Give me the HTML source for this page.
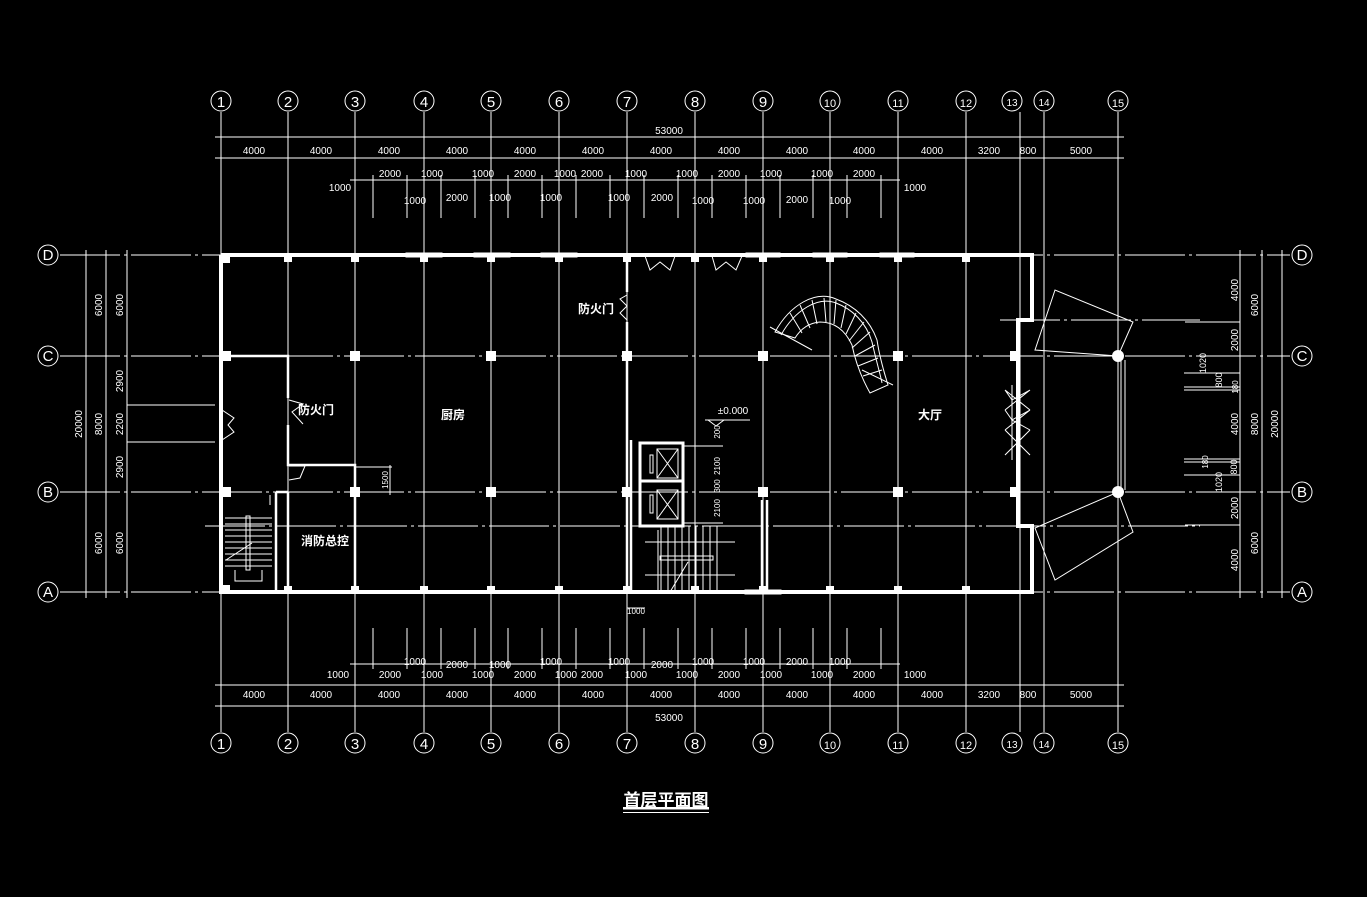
<!DOCTYPE html>
<html><head><meta charset="utf-8"><style>
html,body{margin:0;padding:0;background:#000;}
svg{display:block}
text{fill:#fff;font-family:"Liberation Sans","Noto Sans CJK SC",sans-serif;}
.d{font-size:10px;text-anchor:middle}
.c{font-size:15px;text-anchor:middle;font-family:"Liberation Serif",serif}
.g{stroke:#fff;stroke-width:1;stroke-dasharray:60,4,3,4;fill:none}
.l{stroke:#fff;stroke-width:1;fill:none}
.w{stroke:#fff;stroke-width:4;fill:none}
.w2{stroke:#fff;stroke-width:2.5;fill:none}
.cn{font-size:12px;text-anchor:middle;font-weight:bold}
</style></head><body>
<svg width="1367" height="897" viewBox="0 0 1367 897" xmlns="http://www.w3.org/2000/svg">
<rect width="1367" height="897" fill="#000"/>
<g class="l">
<line x1="221" y1="112" x2="221" y2="732"/><line x1="288" y1="112" x2="288" y2="732"/>
<line x1="355" y1="112" x2="355" y2="732"/><line x1="424" y1="112" x2="424" y2="732"/>
<line x1="491" y1="112" x2="491" y2="732"/><line x1="559" y1="112" x2="559" y2="732"/>
<line x1="627" y1="112" x2="627" y2="732"/><line x1="695" y1="112" x2="695" y2="732"/>
<line x1="763" y1="112" x2="763" y2="732"/><line x1="830" y1="112" x2="830" y2="732"/>
<line x1="898" y1="112" x2="898" y2="732"/><line x1="966" y1="112" x2="966" y2="732"/>
<line x1="1020" y1="112" x2="1020" y2="732"/><line x1="1044" y1="112" x2="1044" y2="732"/>
<line x1="1118" y1="112" x2="1118" y2="732"/>
</g>
<g class="g">
<line x1="60" y1="255" x2="1290" y2="255"/><line x1="60" y1="356" x2="1290" y2="356"/>
<line x1="60" y1="492" x2="1290" y2="492"/><line x1="60" y1="592" x2="1290" y2="592"/>
<line x1="205" y1="526" x2="1200" y2="526"/><line x1="1000" y1="320" x2="1200" y2="320"/>
</g>
<g class="l">
<circle cx="221" cy="101" r="10"/><circle cx="288" cy="101" r="10"/><circle cx="355" cy="101" r="10"/>
<circle cx="424" cy="101" r="10"/><circle cx="491" cy="101" r="10"/><circle cx="559" cy="101" r="10"/>
<circle cx="627" cy="101" r="10"/><circle cx="695" cy="101" r="10"/><circle cx="763" cy="101" r="10"/>
<circle cx="830" cy="101" r="10"/><circle cx="898" cy="101" r="10"/><circle cx="966" cy="101" r="10"/>
<circle cx="1012" cy="101" r="10"/><circle cx="1044" cy="101" r="10"/><circle cx="1118" cy="101" r="10"/>
<circle cx="221" cy="743" r="10"/><circle cx="288" cy="743" r="10"/><circle cx="355" cy="743" r="10"/>
<circle cx="424" cy="743" r="10"/><circle cx="491" cy="743" r="10"/><circle cx="559" cy="743" r="10"/>
<circle cx="627" cy="743" r="10"/><circle cx="695" cy="743" r="10"/><circle cx="763" cy="743" r="10"/>
<circle cx="830" cy="743" r="10"/><circle cx="898" cy="743" r="10"/><circle cx="966" cy="743" r="10"/>
<circle cx="1012" cy="743" r="10"/><circle cx="1044" cy="743" r="10"/><circle cx="1118" cy="743" r="10"/>
<circle cx="48" cy="255" r="10"/><circle cx="48" cy="356" r="10"/><circle cx="48" cy="492" r="10"/><circle cx="48" cy="592" r="10"/>
<circle cx="1302" cy="255" r="10"/><circle cx="1302" cy="356" r="10"/><circle cx="1302" cy="492" r="10"/><circle cx="1302" cy="592" r="10"/>
</g>
<g class="c">
<text x="221" y="107">1</text><text x="288" y="107">2</text><text x="355" y="107">3</text><text x="424" y="107">4</text>
<text x="491" y="107">5</text><text x="559" y="107">6</text><text x="627" y="107">7</text><text x="695" y="107">8</text>
<text x="763" y="107">9</text><text x="830" y="107" style="font-size:11px">10</text><text x="898" y="107" style="font-size:11px">11</text>
<text x="966" y="107" style="font-size:11px">12</text><text x="1012" y="106" style="font-size:10px">13</text><text x="1044" y="106" style="font-size:10px">14</text>
<text x="1118" y="107" style="font-size:11px">15</text>
<text x="221" y="749">1</text><text x="288" y="749">2</text><text x="355" y="749">3</text><text x="424" y="749">4</text>
<text x="491" y="749">5</text><text x="559" y="749">6</text><text x="627" y="749">7</text><text x="695" y="749">8</text>
<text x="763" y="749">9</text><text x="830" y="749" style="font-size:11px">10</text><text x="898" y="749" style="font-size:11px">11</text>
<text x="966" y="749" style="font-size:11px">12</text><text x="1012" y="748" style="font-size:10px">13</text><text x="1044" y="748" style="font-size:10px">14</text>
<text x="1118" y="749" style="font-size:11px">15</text>
<text x="48" y="260">D</text><text x="48" y="361">C</text><text x="48" y="497">B</text><text x="48" y="597">A</text>
<text x="1302" y="260">D</text><text x="1302" y="361">C</text><text x="1302" y="497">B</text><text x="1302" y="597">A</text>
</g>
<g class="l">
<line x1="215" y1="137" x2="1124" y2="137"/><line x1="215" y1="158" x2="1124" y2="158"/>
<line x1="350" y1="180" x2="900" y2="180"/>
<line x1="215" y1="685" x2="1124" y2="685"/><line x1="215" y1="706" x2="1124" y2="706"/>
<line x1="350" y1="664" x2="900" y2="664"/>
<line x1="86" y1="250" x2="86" y2="598"/><line x1="106" y1="250" x2="106" y2="598"/><line x1="127" y1="250" x2="127" y2="598"/>
<line x1="1240" y1="250" x2="1240" y2="598"/><line x1="1262" y1="250" x2="1262" y2="598"/><line x1="1282" y1="250" x2="1282" y2="598"/>
<line x1="127" y1="405" x2="215" y2="405"/><line x1="127" y1="442" x2="215" y2="442"/>
<line x1="1185" y1="322" x2="1240" y2="322"/><line x1="1185" y1="525" x2="1240" y2="525"/>
<line x1="1184" y1="373" x2="1240" y2="373"/><line x1="1184" y1="387" x2="1240" y2="387"/><line x1="1184" y1="390" x2="1240" y2="390"/>
<line x1="1184" y1="459" x2="1240" y2="459"/><line x1="1184" y1="462" x2="1240" y2="462"/><line x1="1184" y1="475" x2="1240" y2="475"/>
</g>
<g class="l">
<line x1="373" y1="175" x2="373" y2="218"/><line x1="407" y1="175" x2="407" y2="218"/><line x1="441" y1="175" x2="441" y2="218"/>
<line x1="475" y1="175" x2="475" y2="218"/><line x1="508" y1="175" x2="508" y2="218"/><line x1="542" y1="175" x2="542" y2="218"/>
<line x1="576" y1="175" x2="576" y2="218"/><line x1="610" y1="175" x2="610" y2="218"/><line x1="644" y1="175" x2="644" y2="218"/>
<line x1="678" y1="175" x2="678" y2="218"/><line x1="712" y1="175" x2="712" y2="218"/><line x1="746" y1="175" x2="746" y2="218"/>
<line x1="780" y1="175" x2="780" y2="218"/><line x1="813" y1="175" x2="813" y2="218"/><line x1="847" y1="175" x2="847" y2="218"/>
<line x1="881" y1="175" x2="881" y2="218"/>
<line x1="373" y1="628" x2="373" y2="669"/><line x1="407" y1="628" x2="407" y2="669"/><line x1="441" y1="628" x2="441" y2="669"/>
<line x1="475" y1="628" x2="475" y2="669"/><line x1="508" y1="628" x2="508" y2="669"/><line x1="542" y1="628" x2="542" y2="669"/>
<line x1="576" y1="628" x2="576" y2="669"/><line x1="610" y1="628" x2="610" y2="669"/><line x1="644" y1="628" x2="644" y2="669"/>
<line x1="678" y1="628" x2="678" y2="669"/><line x1="712" y1="628" x2="712" y2="669"/><line x1="746" y1="628" x2="746" y2="669"/>
<line x1="780" y1="628" x2="780" y2="669"/><line x1="813" y1="628" x2="813" y2="669"/><line x1="847" y1="628" x2="847" y2="669"/>
<line x1="881" y1="628" x2="881" y2="669"/>
</g>
<g class="d">
<text x="669" y="134">53000</text><text x="669" y="721">53000</text>
<text x="254" y="154">4000</text><text x="321" y="154">4000</text><text x="389" y="154">4000</text><text x="457" y="154">4000</text>
<text x="525" y="154">4000</text><text x="593" y="154">4000</text><text x="661" y="154">4000</text><text x="729" y="154">4000</text>
<text x="797" y="154">4000</text><text x="864" y="154">4000</text><text x="932" y="154">4000</text><text x="989" y="154">3200</text>
<text x="1028" y="154">800</text><text x="1081" y="154">5000</text>
<text x="254" y="698">4000</text><text x="321" y="698">4000</text><text x="389" y="698">4000</text><text x="457" y="698">4000</text>
<text x="525" y="698">4000</text><text x="593" y="698">4000</text><text x="661" y="698">4000</text><text x="729" y="698">4000</text>
<text x="797" y="698">4000</text><text x="864" y="698">4000</text><text x="932" y="698">4000</text><text x="989" y="698">3200</text>
<text x="1028" y="698">800</text><text x="1081" y="698">5000</text>
<text x="340" y="191">1000</text><text x="390" y="177">2000</text><text x="432" y="177">1000</text><text x="483" y="177">1000</text>
<text x="525" y="177">2000</text><text x="565" y="177">1000</text><text x="592" y="177">2000</text><text x="636" y="177">1000</text>
<text x="687" y="177">1000</text><text x="729" y="177">2000</text><text x="771" y="177">1000</text><text x="822" y="177">1000</text>
<text x="864" y="177">2000</text><text x="915" y="191">1000</text>
<text x="415" y="204">1000</text><text x="457" y="201">2000</text><text x="500" y="201">1000</text><text x="551" y="201">1000</text>
<text x="619" y="201">1000</text><text x="662" y="201">2000</text><text x="703" y="204">1000</text><text x="754" y="204">1000</text>
<text x="797" y="203">2000</text><text x="840" y="204">1000</text>
<text x="338" y="678">1000</text><text x="390" y="678">2000</text><text x="432" y="678">1000</text><text x="483" y="678">1000</text>
<text x="525" y="678">2000</text><text x="566" y="678">1000</text><text x="592" y="678">2000</text><text x="636" y="678">1000</text>
<text x="687" y="678">1000</text><text x="729" y="678">2000</text><text x="771" y="678">1000</text><text x="822" y="678">1000</text>
<text x="864" y="678">2000</text><text x="915" y="678">1000</text>
<text x="415" y="665">1000</text><text x="457" y="668">2000</text><text x="500" y="668">1000</text><text x="551" y="665">1000</text>
<text x="619" y="665">1000</text><text x="662" y="668">2000</text><text x="703" y="665">1000</text><text x="754" y="665">1000</text>
<text x="797" y="665">2000</text><text x="840" y="665">1000</text>
</g>
<g class="d">
<text transform="translate(82,424) rotate(-90)">20000</text>
<text transform="translate(102,305) rotate(-90)">6000</text><text transform="translate(123,305) rotate(-90)">6000</text>
<text transform="translate(102,424) rotate(-90)">8000</text>
<text transform="translate(123,381) rotate(-90)">2900</text><text transform="translate(123,424) rotate(-90)">2200</text>
<text transform="translate(123,467) rotate(-90)">2900</text>
<text transform="translate(102,543) rotate(-90)">6000</text><text transform="translate(123,543) rotate(-90)">6000</text>
<text transform="translate(1238,290) rotate(-90)">4000</text><text transform="translate(1238,340) rotate(-90)">2000</text>
<text transform="translate(1238,424) rotate(-90)">4000</text><text transform="translate(1238,508) rotate(-90)">2000</text>
<text transform="translate(1238,560) rotate(-90)">4000</text>
<text transform="translate(1258,305) rotate(-90)">6000</text><text transform="translate(1258,424) rotate(-90)">8000</text>
<text transform="translate(1258,543) rotate(-90)">6000</text><text transform="translate(1278,424) rotate(-90)">20000</text>
<text transform="translate(1206,363) rotate(-90)" style="font-size:9px">1020</text>
<text transform="translate(1222,380) rotate(-90)" style="font-size:9px">800</text>
<text transform="translate(1238,387) rotate(-90)" style="font-size:8px">180</text>
<text transform="translate(1208,462) rotate(-90)" style="font-size:8px">180</text>
<text transform="translate(1237,467) rotate(-90)" style="font-size:9px">800</text>
<text transform="translate(1222,482) rotate(-90)" style="font-size:9px">1020</text>
<text transform="translate(388,480) rotate(-90)" style="font-size:8px">1500</text>
<text transform="translate(720,432) rotate(-90)" style="font-size:8px">200</text>
<text transform="translate(720,466) rotate(-90)" style="font-size:8px">2100</text>
<text transform="translate(720,486) rotate(-90)" style="font-size:8px">300</text>
<text transform="translate(720,508) rotate(-90)" style="font-size:8px">2100</text>
</g>
<g class="w">
<polyline points="221,255 1032,255 1032,320 1018,320 1018,526 1032,526 1032,592 221,592 221,255"/>
</g>
<g class="w2">
<polyline points="221,356 288,356 288,398"/><polyline points="288,425 288,465 355,465 355,592"/>
<line x1="276" y1="492" x2="276" y2="592"/><line x1="288" y1="492" x2="288" y2="592"/>
<line x1="276" y1="492" x2="288" y2="492"/>
<line x1="627" y1="255" x2="627" y2="292"/><line x1="627" y1="322" x2="627" y2="592"/>
<line x1="631" y1="440" x2="631" y2="592"/>
<line x1="762" y1="500" x2="762" y2="592"/><line x1="767" y1="500" x2="767" y2="592"/>
</g>
<g class="l">
<path d="M222,410 L234,418 L228,425 L234,432 L222,440"/>
<path d="M289,400 L303,404 L292,412 L303,424"/>
<path d="M289,466 L305,466 L300,478 L289,480"/>
<path d="M627,295 L620,299 L627,306 L620,313 L627,320"/>
<path d="M645,256 L650,270 L660,262 L670,270 L675,256"/>
<path d="M712,256 L716,270 L726,262 L736,270 L742,256"/>
<path d="M1005,390 L1012,400 L1030,390 M1005,390 L1030,410 M1005,410 L1030,390 M1005,410 L1012,420 L1030,410 L1012,420 L1030,430 M1005,430 L1030,410 M1005,430 L1030,455 M1005,455 L1030,430"/>
<line x1="1012" y1="385" x2="1012" y2="460"/>
</g>
<g class="l">
<line x1="225" y1="518" x2="272" y2="518"/><line x1="225" y1="524" x2="272" y2="524"/><line x1="225" y1="530" x2="272" y2="530"/>
<line x1="225" y1="536" x2="272" y2="536"/><line x1="225" y1="542" x2="272" y2="542"/><line x1="225" y1="548" x2="272" y2="548"/>
<line x1="225" y1="554" x2="272" y2="554"/><line x1="225" y1="560" x2="272" y2="560"/><line x1="225" y1="566" x2="272" y2="566"/>
<rect x="246" y="516" width="4" height="54"/><line x1="226" y1="560" x2="252" y2="543"/>
<polyline points="235,570 235,581 262,581 262,570"/>
<line x1="270" y1="495" x2="270" y2="505"/>
</g>
<g fill="#fff">
<rect x="222" y="256" width="8" height="7"/><rect x="284" y="256" width="8" height="6"/><rect x="351" y="256" width="8" height="6"/>
<rect x="420" y="256" width="8" height="6"/><rect x="487" y="256" width="8" height="6"/><rect x="555" y="256" width="8" height="6"/>
<rect x="623" y="256" width="8" height="6"/><rect x="691" y="256" width="8" height="6"/><rect x="759" y="256" width="8" height="6"/>
<rect x="826" y="256" width="8" height="6"/><rect x="894" y="256" width="8" height="6"/><rect x="962" y="256" width="8" height="6"/>
<rect x="222" y="585" width="8" height="6"/><rect x="284" y="586" width="8" height="6"/><rect x="351" y="586" width="8" height="6"/>
<rect x="420" y="586" width="8" height="6"/><rect x="487" y="586" width="8" height="6"/><rect x="555" y="586" width="8" height="6"/>
<rect x="623" y="586" width="8" height="6"/><rect x="691" y="586" width="8" height="6"/><rect x="759" y="586" width="8" height="6"/>
<rect x="826" y="586" width="8" height="6"/><rect x="894" y="586" width="8" height="6"/><rect x="962" y="586" width="8" height="6"/>
<rect x="222" y="351" width="9" height="10"/><rect x="350" y="351" width="10" height="10"/><rect x="486" y="351" width="10" height="10"/>
<rect x="622" y="351" width="10" height="10"/><rect x="758" y="351" width="10" height="10"/><rect x="893" y="351" width="10" height="10"/>
<rect x="1010" y="351" width="8" height="10"/>
<rect x="222" y="487" width="9" height="10"/><rect x="350" y="487" width="10" height="10"/><rect x="486" y="487" width="10" height="10"/>
<rect x="622" y="487" width="10" height="10"/><rect x="758" y="487" width="10" height="10"/><rect x="893" y="487" width="10" height="10"/>
<rect x="1010" y="487" width="8" height="10"/>
<circle cx="1118" cy="356" r="6"/><circle cx="1118" cy="492" r="6"/>
</g>
<g class="l">
<rect x="406" y="253" width="36" height="4"/><rect x="474" y="253" width="36" height="4"/><rect x="541" y="253" width="36" height="4"/>
<rect x="813" y="253" width="34" height="4"/><rect x="880" y="253" width="34" height="4"/><rect x="746" y="253" width="34" height="4"/>
<rect x="745" y="590" width="36" height="4"/>
</g>
<g class="l">
<rect x="640" y="443" width="43" height="83" stroke-width="3"/>
<line x1="640" y1="481" x2="683" y2="481" stroke-width="3"/>
<rect x="657" y="449" width="21" height="29"/><line x1="657" y1="449" x2="678" y2="478"/><line x1="678" y1="449" x2="657" y2="478"/>
<rect x="657" y="490" width="21" height="29"/><line x1="657" y1="490" x2="678" y2="519"/><line x1="678" y1="490" x2="657" y2="519"/>
<rect x="650" y="455" width="3" height="18"/><rect x="650" y="495" width="3" height="18"/>
<line x1="683" y1="446" x2="723" y2="446"/><line x1="683" y1="523" x2="723" y2="523"/>
<polyline points="708,420 716,426 724,420 705,420 750,420"/>
<line x1="658" y1="530" x2="658" y2="592"/>
<line x1="661" y1="526" x2="661" y2="592"/><line x1="668" y1="526" x2="668" y2="592"/><line x1="675" y1="526" x2="675" y2="592"/>
<line x1="682" y1="526" x2="682" y2="592"/><line x1="689" y1="526" x2="689" y2="592"/><line x1="696" y1="526" x2="696" y2="592"/>
<line x1="703" y1="526" x2="703" y2="592"/><line x1="710" y1="526" x2="710" y2="592"/><line x1="717" y1="526" x2="717" y2="592"/>
<rect x="660" y="556" width="53" height="4"/><line x1="645" y1="542" x2="735" y2="542"/><line x1="645" y1="575" x2="735" y2="575"/>
<line x1="670" y1="592" x2="688" y2="562"/>
<line x1="627" y1="608" x2="645" y2="608"/>
</g>
<text class="d" x="636" y="614" style="font-size:8px">1000</text>
<text class="d" x="733" y="414" style="font-size:10px">±0.000</text>
<line class="l" x1="355" y1="467" x2="392" y2="467"/><line class="l" x1="390" y1="465" x2="390" y2="495"/>
<g class="l">
<path d="M775,332 C790,305 815,290 836,299 C855,306 870,320 877,340 C880,360 885,375 888,385 L870,393 C860,375 855,360 852,345 C845,330 835,322 820,322 C808,323 800,330 795,338 Z"/>
<path d="M781,335 C795,310 818,296 836,303 C852,309 866,322 872,342 C876,360 880,373 882,383"/>
<line x1="770" y1="327" x2="812" y2="350"/><line x1="862" y1="370" x2="893" y2="385"/>
<line x1="790" y1="313" x2="802" y2="333"/><line x1="800" y1="305" x2="810" y2="328"/><line x1="812" y1="300" x2="817" y2="324"/>
<line x1="824" y1="298" x2="826" y2="322"/><line x1="836" y1="300" x2="834" y2="324"/><line x1="846" y1="305" x2="841" y2="328"/>
<line x1="856" y1="313" x2="846" y2="334"/><line x1="864" y1="322" x2="849" y2="341"/><line x1="870" y1="332" x2="852" y2="348"/>
<line x1="875" y1="345" x2="855" y2="356"/><line x1="878" y1="358" x2="858" y2="366"/><line x1="882" y1="370" x2="863" y2="376"/>
</g>
<g class="l">
<polygon points="1035,350 1055,290 1133,322 1118,356"/>
<polygon points="1035,528 1055,580 1133,532 1118,492"/>
<line x1="1121" y1="360" x2="1121" y2="490"/><line x1="1125" y1="360" x2="1125" y2="490"/>
</g>
<g class="cn">
<text x="316" y="414">防火门</text><text x="453" y="419">厨房</text><text x="596" y="313">防火门</text>
<text x="930" y="419">大厅</text><text x="325" y="545">消防总控</text>
</g>
<text x="666" y="806" style="font-size:17px;font-weight:bold;text-anchor:middle">首层平面图</text>
<rect x="623" y="807" width="86" height="2.5" fill="#fff"/><rect x="623" y="812" width="86" height="1" fill="#fff"/>
</svg>
</body></html>
